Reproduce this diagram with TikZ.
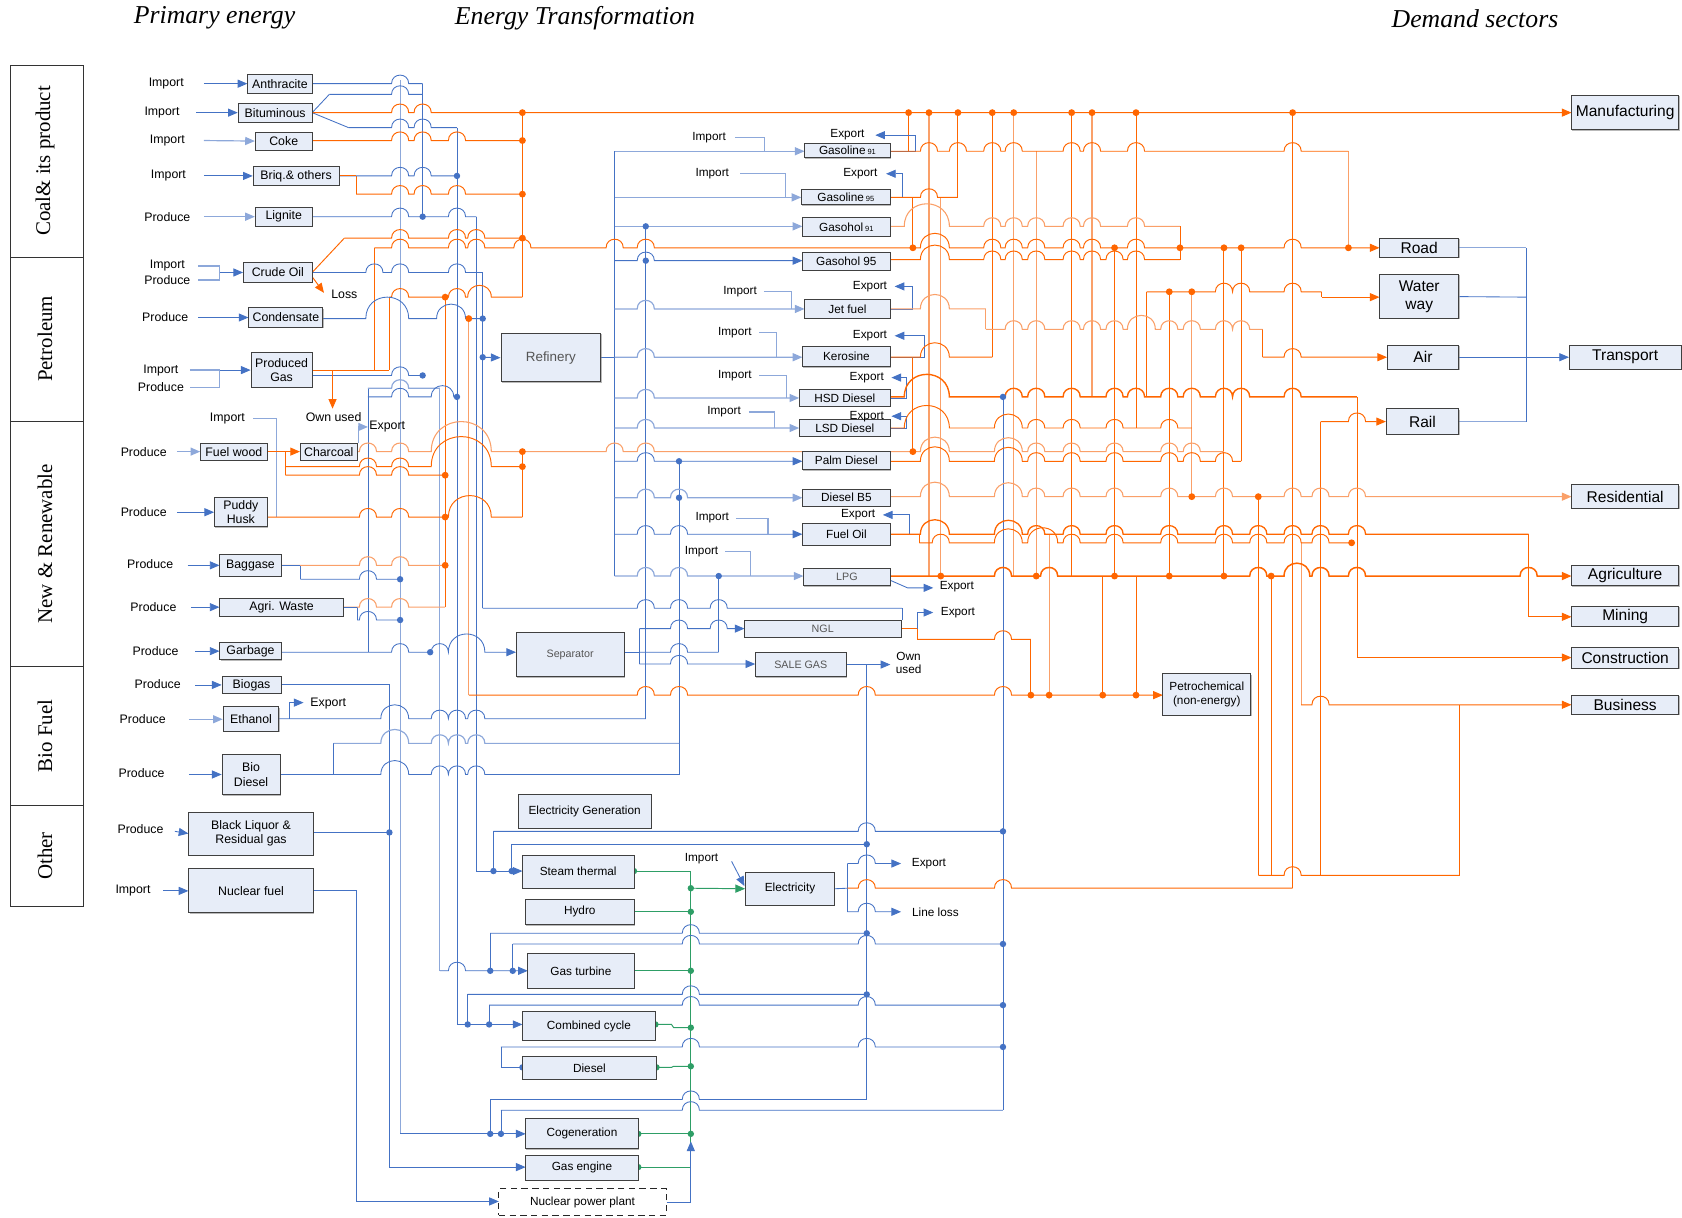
\documentclass[tikz,border=0pt]{standalone}
\usepackage{fontspec}
\setmainfont{Liberation Sans}
\newfontfamily\serfam{Liberation Serif}
\usetikzlibrary{arrows.meta,shadows}
\definecolor{blueC}{RGB}{68,114,196}
\definecolor{lblueC}{RGB}{141,168,218}
\definecolor{orangeC}{RGB}{255,102,0}
\definecolor{lorangeC}{RGB}{250,160,105}
\definecolor{greenC}{RGB}{46,158,102}
\definecolor{boxC}{RGB}{231,237,248}
\definecolor{grayT}{RGB}{85,85,85}
\newcommand\fA{\fontsize{11}{13}\selectfont}
\newcommand\fB{\fontsize{11.5}{13.5}\selectfont}
\newcommand\fC{\fontsize{14.5}{17}\selectfont}
\newcommand\fG{\fontsize{10}{12}\selectfont}
\newcommand\fS{\fontsize{7}{8}\selectfont}
\pgfdeclarelayer{bg}
\pgfsetlayers{bg,main}
% verticals: x/top/bottom/style (sorted by x)
\def\vlist{258/390/482/lbl,266/421/443/ol,280/527/540/bl,311/693/722/bl,332/164/181/ol,332/830/1120/bl,333/566/578/bl,343/362/608/bl,349/231/345/ol,363/277/345/ol,363/638/1088/bl,373/75/1057/lbl,394/78/202/bl,410/362/905/lbl,415/277/566/ol,426/119/955/bl,436/927/955/bl,437/297/648/lol,444/202/812/bl,450/254/567/bl,456/937/955/bl,457/870/905/bl,457/1025/1057/bl,460/775/812/bl,467/976/995/bl,467/1035/1057/bl,477/787/812/bl,478/880/905/bl,487/105/277/ol,487/421/482/ol,573/141/537/bl,596/586/619/bl,602/211/670/bl,633/430/722/bl,644/812/1088/gl,670/537/608/bl,790/805/850/bl,808/619/1025/bl,841/567/578/bl,847/105/141/ol,851/184/231/ol,851/333/421/ol,855/586/596/ol,857/498/506/ol,866/105/537/lol,877/184/537/lol,893/105/184/ol,919/288/307/lol,925/105/333/ol,935/370/1035/bl,945/105/537/lol,961/596/648/ol,966/141/537/lol,978/498/648/lol,999/105/537/ol,1018/105/370/lol,1028/537/648/ol,1039/231/537/ol,1059/105/399/ol,1059/537/648/ol,1069/272/370/ol,1090/272/537/ol,1100/211/242/ol,1111/272/463/lol,1141/231/537/ol,1157/231/430/ol,1173/463/816/ol,1177/307/333/ol,1185/537/816/ol,1205/105/828/ol,1213/506/657/lol,1231/393/816/ol,1232/272/277/ol,1257/141/231/lol,1265/370/613/ol,1361/657/816/ol,1423/231/393/bl,1425/498/575/ol}
% horizontal segment with hops over the verticals it crosses
\newcommand\hseg[4][bl]{%
  \gdef\hoplist{}\gdef\hopA{}\gdef\hopB{}%
  \foreach \vx/\vt/\vb/\vs in \vlist {%
    \pgfmathparse{and(and(\vx>#3+9,\vx<#4-9),and(\vt<#2-1,\vb>#2+1))}%
    \ifdim\pgfmathresult pt>0.5pt\relax
      \ifx\hopA\empty
        \pgfmathsetmacro\hsTa{\vx-8}\pgfmathsetmacro\hsTb{\vx+8}%
        \xdef\hopA{\hsTa}\xdef\hopB{\hsTb}%
      \else
        \pgfmathparse{\vx-8<\hopB}%
        \ifdim\pgfmathresult pt>0.5pt\relax
          \pgfmathsetmacro\hsTb{\vx+8}\xdef\hopB{\hsTb}%
        \else
          \ifx\hoplist\empty\xdef\hoplist{\hopA/\hopB}\else\xdef\hoplist{\hoplist,\hopA/\hopB}\fi
          \pgfmathsetmacro\hsTa{\vx-8}\pgfmathsetmacro\hsTb{\vx+8}%
          \xdef\hopA{\hsTa}\xdef\hopB{\hsTb}%
        \fi
      \fi
    \fi
  }%
  \ifx\hopA\empty\else
    \ifx\hoplist\empty\xdef\hoplist{\hopA/\hopB}\else\xdef\hoplist{\hoplist,\hopA/\hopB}\fi
  \fi
  \ifx\hoplist\empty
    \draw[#1] (#3,#2) -- (#4,#2);
  \else
    \draw[#1] (#3,#2) \foreach \ha/\hb in \hoplist {-- (\ha,#2) .. controls ({\ha},{#2-0.667*(\hb-\ha)}) and ({\hb},{#2-0.667*(\hb-\ha)}) .. (\hb,#2)} -- (#4,#2);
  \fi
}
\begin{document}
\begin{tikzpicture}[x=1pt,y=-1pt,
  bl/.style={draw=blueC,line width=0.8pt},
  lbl/.style={draw=lblueC,line width=1.1pt},
  ol/.style={draw=orangeC,line width=0.9pt},
  lol/.style={draw=lorangeC,line width=1pt},
  gl/.style={draw=greenC,line width=0.9pt},
  tri/.style={-{Triangle[length=9pt,width=7.5pt]}},
  box/.style={draw=black!75,fill=boxC,line width=0.8pt,inner sep=1pt,align=center,font=\fA,
     drop shadow={shadow xshift=0.8pt,shadow yshift=-0.8pt,fill=black!55}},
  lbox/.style={box,font=\fB},
  sbox/.style={box,font=\fC},
  gbox/.style={box,text=grayT},
  lab/.style={font=\fA,inner sep=0pt,align=center},
  llab/.style={font=\fB,inner sep=0pt,align=center}]
\useasboundingbox (0,0) rectangle (1568,1135);
% titles
\node[font=\serfam\itshape\fontsize{24}{28}\selectfont] (t1) at (200,17) {Primary energy};
\node[font=\serfam\itshape\fontsize{24}{28}\selectfont] (t2) at (536,17) {Energy Transformation};
\node[font=\serfam\itshape\fontsize{24}{28}\selectfont] (t3) at (1375,17) {Demand sectors};
% categories
\draw[black!80,line width=0.9pt] (10,61) rectangle (78,845);
\foreach \yy in {240,393,621,751} \draw[black!80,line width=0.9pt] (10,\yy) -- (78,\yy);
\begin{scope}[every node/.style={rotate=90,font=\serfam\fontsize{19.5}{22}\selectfont}]
\node (c1) at (42,150) {Coal\& its product};
\node (c2) at (42,316) {Petroleum};
\node (c3) at (42,507) {New \& Renewable};
\node (c4) at (42,686) {Bio Fuel};
\node (c5) at (42,798) {Other};
\end{scope}
% primary boxes
\node[lbox,minimum width=60,minimum height=18] (anth) at (261,78) {Anthracite};
\node[lbox,minimum width=69,minimum height=18] (bitu) at (256.5,105) {Bituminous};
\node[lbox,minimum width=53,minimum height=17] (coke) at (264.5,131.5) {Coke};
\node[lbox,minimum width=80,minimum height=18] (briq) at (276,164) {Briq.\& others};
\node[lbox,minimum width=53,minimum height=18] (lign) at (264.5,202) {Lignite};
\node[lbox,minimum width=64,minimum height=18] (crude) at (259,254) {Crude Oil};
\node[lbox,minimum width=69,minimum height=18] (cond) at (266.5,296) {Condensate};
\node[lbox,minimum width=57,minimum height=32] (pgas) at (262.5,345) {Produced\\Gas};
\node[lbox,minimum width=62,minimum height=16] (fwood) at (218,421) {Fuel wood};
\node[lbox,minimum width=53,minimum height=16] (charc) at (306.5,421) {Charcoal};
\node[lbox,minimum width=49,minimum height=27] (puddy) at (224.5,477.5) {Puddy\\Husk};
\node[lbox,minimum width=57,minimum height=20] (bagg) at (233.5,527) {Baggase};
\node[lbox,minimum width=115,minimum height=17] (agri) at (262.5,566) {Agri. Waste};
\node[lbox,minimum width=57,minimum height=16] (garb) at (233.5,607) {Garbage};
\node[lbox,minimum width=55,minimum height=15] (biog) at (234.5,638.5) {Biogas};
\node[lbox,minimum width=52,minimum height=23] (ethan) at (234,670.5) {Ethanol};
\node[lbox,minimum width=54,minimum height=38] (biod) at (234,722) {Bio\\Diesel};
\node[lbox,minimum width=116,minimum height=40] (blq) at (234,777) {Black Liquor \&\\Residual gas};
\node[lbox,minimum width=116,minimum height=41] (nucf) at (234,830.5) {Nuclear fuel};
% transformation boxes
\node[gbox,font=\fontsize{12.5}{15}\selectfont,minimum width=93,minimum height=45] (refin) at (513.5,333.5) {Refinery};
\node[gbox,font=\fG,minimum width=101,minimum height=41] (sep) at (531.5,610.5) {Separator};
\node[box,minimum width=80,minimum height=13] (g91) at (790,140.5) {Gasoline\,{\fS 91}};
\node[box,minimum width=83,minimum height=14] (g95) at (788.5,184) {Gasoline\,{\fS 95}};
\node[box,minimum width=82,minimum height=17] (gh91) at (789,211.5) {Gasohol\,{\fS 91}};
\node[box,minimum width=82,minimum height=17] (gh95) at (789,243.5) {Gasohol 95};
\node[box,minimum width=80,minimum height=18] (jet) at (790,288) {Jet fuel};
\node[box,minimum width=82,minimum height=19] (kero) at (789,332.5) {Kerosine};
\node[box,minimum width=85,minimum height=16] (hsd) at (787.5,371) {HSD Diesel};
\node[box,minimum width=85,minimum height=16] (lsd) at (787.5,399) {LSD Diesel};
\node[box,minimum width=82,minimum height=17] (palm) at (789,429.5) {Palm Diesel};
\node[box,minimum width=82,minimum height=16] (b5) at (789,464) {Diesel B5};
\node[box,minimum width=82,minimum height=20] (foil) at (789,498) {Fuel Oil};
\node[gbox,font=\fG,minimum width=81,minimum height=16] (lpg) at (789.5,538) {LPG};
\node[gbox,font=\fG,minimum width=146,minimum height=16] (ngl) at (767,586) {NGL};
\node[gbox,font=\fG,minimum width=85,minimum height=23] (sale) at (746.5,619.5) {SALE GAS};
\node[box,minimum width=124,minimum height=31] (egen) at (545,756.5) {Electricity Generation};
\node[box,minimum width=104,minimum height=31] (steam) at (539,812.5) {Steam thermal};
\node[box,minimum width=101,minimum height=24] (hydro) at (540.5,850) {Hydro};
\node[box,minimum width=99,minimum height=32] (gturb) at (541.5,905) {Gas turbine};
\node[box,minimum width=124,minimum height=27] (ccyc) at (549,956.5) {Combined cycle};
\node[box,minimum width=125,minimum height=21] (dies) at (549.5,995.5) {Diesel};
\node[box,minimum width=105,minimum height=28] (cogen) at (542.5,1057) {Cogeneration};
\node[box,minimum width=105,minimum height=23] (geng) at (542.5,1088.5) {Gas engine};
\node[draw=black!85,dash pattern=on 6pt off 4pt,line width=1pt,fill=white,font=\fA,minimum width=156,minimum height=25,inner sep=1pt] (npp) at (543,1120.5) {Nuclear power plant};
\node[box,minimum width=83,minimum height=31] (elec) at (736.5,828.5) {Electricity};
\node[box,minimum width=82,minimum height=39] (petro) at (1125,647.5) {Petrochemical\\(non-energy)};
% demand boxes
\node[sbox,minimum width=100,minimum height=32] (manu) at (1515,105) {Manufacturing};
\node[sbox,minimum width=74,minimum height=18] (road) at (1323,231) {Road};
\node[sbox,minimum width=74,minimum height=41] (water) at (1323,276.5) {Water\\way};
\node[sbox,minimum width=67,minimum height=22] (air) at (1326.5,333) {Air};
\node[sbox,minimum width=68,minimum height=24] (rail) at (1326,393) {Rail};
\node[sbox,minimum width=104,minimum height=22] (transp) at (1515,333) {Transport};
\node[sbox,minimum width=100,minimum height=22] (resid) at (1515,463) {Residential};
\node[sbox,minimum width=100,minimum height=19] (agric) at (1515,536.5) {Agriculture};
\node[sbox,minimum width=100,minimum height=19] (mining) at (1515,574.5) {Mining};
\node[sbox,minimum width=100,minimum height=19] (constr) at (1515,613.5) {Construction};
\node[sbox,minimum width=100,minimum height=18] (busi) at (1515,657) {Business};
% left labels
\node[llab] (p1) at (155,78) {Import};
\node[llab] (p2) at (151,105) {Import};
\node[llab] (p3) at (156,131) {Import};
\node[llab] (p4) at (157,164) {Import};
\node[llab] (p5) at (156,202) {Produce};
\node[llab] (p6) at (156,248) {Import};
\node[llab] (p7) at (156,261) {Produce};
\node[llab] (p8) at (154,296) {Produce};
\node[llab] (p9) at (150,345) {Import};
\node[llab] (p10) at (150,361) {Produce};
\node[llab] (p11) at (212,390) {Import};
\node[llab] (p12) at (134,421) {Produce};
\node[llab] (p13) at (134,477) {Produce};
\node[llab] (p14) at (140,526) {Produce};
\node[llab] (p15) at (143,566) {Produce};
\node[llab] (p16) at (145,607) {Produce};
\node[llab] (p17) at (147,638) {Produce};
\node[llab] (p18) at (133,670) {Produce};
\node[llab] (p19) at (132,721) {Produce};
\node[llab] (p20) at (131,773) {Produce};
\node[llab] (p21) at (124,830) {Import};
\node[llab] (q1) at (321,274) {Loss};
\node[llab] (q2) at (311,389) {Own used};
\node[llab] (q3) at (361,398) {Export};
\node[llab] (q4) at (306,656) {Export};
% middle labels
\node[lab] (m1) at (661,128) {Import};
\node[lab] (m2) at (790,126) {Export};
\node[lab] (m3) at (664,162) {Import};
\node[lab] (m4) at (802,162) {Export};
\node[lab] (m5) at (690,272) {Import};
\node[lab] (m6) at (811,267) {Export};
\node[lab] (m7) at (685,310) {Import};
\node[lab] (m8) at (811,313) {Export};
\node[lab] (m9) at (685,350) {Import};
\node[lab] (m10) at (808,352) {Export};
\node[lab] (m11) at (675,384) {Import};
\node[lab] (m12) at (808,388) {Export};
\node[lab] (m13) at (664,483) {Import};
\node[lab] (m14) at (800,480) {Export};
\node[lab] (m15) at (654,514) {Import};
\node[lab] (m16) at (892,547) {Export};
\node[lab] (m17) at (893,571) {Export};
\node[lab] (m18) at (847,618) {Own\\used};
\node[lab] (m19) at (654,800) {Import};
\node[lab] (m20) at (866,805) {Export};
\node[lab] (m21) at (872,850) {Line loss};

\begin{pgfonlayer}{bg}
% all verticals
\foreach \vx/\vt/\vb/\vs in \vlist {\draw[\vs] (\vx,\vt) -- (\vx,\vb);}
% ---- primary inputs
\draw[bl,tri] (190,78) -- (anth.west);
\draw[bl,tri] (183,105) -- (bitu.west);
\draw[lbl,tri] (190,131) -- (coke.west);
\draw[bl,tri] (190,164) -- (briq.west);
\draw[lbl,tri] (190,202) -- (lign.west);
\draw[lbl] (185,248) -| (205,261) -- (185,261);
\draw[bl,tri] (205,254) -- (crude.west);
\draw[bl,tri] (185,296) -- (cond.west);
\draw[lbl] (177,345) -| (205,361) -- (177,361);
\draw[bl,tri] (205,345) -- (pgas.west);
\draw[lbl,tri] (165,421) -- (fwood.west);
\draw[bl,tri] (165,477.5) -- (puddy.west);
\draw[bl,tri] (175,527) -- (bagg.west);
\draw[bl,tri] (178,566) -- (agri.west);
\draw[bl,tri] (182,607) -- (garb.west);
\draw[bl,tri] (182,638.5) -- (biog.west);
\draw[lbl,tri] (176,670.5) -- (ethan.west);
\draw[bl,tri] (176,722) -- (biod.west);
\draw[bl,tri] (163,775) -- (blq.west);
\draw[bl,tri] (152,830.5) -- (nucf.west);
% ---- coal & petroleum
\hseg[bl]{78}{291}{394}
\draw[bl] (291,105) -- (307,88); \hseg[bl]{88}{307}{394}
\draw[bl] (291,105) -- (325,119); \hseg[bl]{119}{325}{426}
\hseg[ol,tri]{105}{291}{1465}
\hseg[ol]{131}{291}{487}
\hseg[bl]{164}{316}{426}
\hseg[ol]{164}{316}{332}
\hseg[ol]{181}{332}{487}
\hseg[bl]{202}{291}{394}
\hseg[bl]{202}{394}{444}
\draw[ol] (291,254) -- (321,222); \hseg[ol]{222}{321}{487}
\hseg[bl]{254}{291}{450}
\draw[ol,tri] (291,258) -- (302,273);
\hseg[ol]{231}{349}{1100}
\hseg[ol,tri]{231}{1100}{1286}
\hseg[ol]{277}{363}{487}
\hseg[bl]{297}{301}{450}
\hseg[ol]{345}{291}{363}
\hseg[bl]{350}{291}{394}
\hseg[lbl]{362}{343}{410}
\hseg[bl]{370}{343}{426}
\draw[bl,tri] (450,333) -- (refin.west);
\draw[ol,tri] (310,345) -- (310,381);
% ---- new & renewable
\draw[lbl] (236,390) -- (258,390);
\draw[ol,tri] (fwood.east) -- (charc.west);
\draw[lbl,tri] (334,413) -- (334,398) -- (343,398);
\hseg[lol]{421}{333}{1141}
\hseg[ol]{435}{266}{487}
\hseg[ol]{443}{266}{415}
\hseg[ol]{482}{249}{415}
\hseg[ol]{482}{415}{487}
\hseg[lol]{527}{262}{415}
\draw[bl] (262,527) -- (280,527);
\hseg[bl]{540}{280}{373}
\hseg[lol]{566}{320}{415}
\draw[bl] (320,566) -- (333,566);
\hseg[bl]{578}{333}{373}
\hseg[bl,tri]{608}{262}{481}
% ---- bio fuel & other
\hseg[bl]{638}{262}{363}
\hseg[bl]{670}{260}{602}
\draw[bl,tri] (270,670) -- (270,655) -- (283,655);
\hseg[bl]{722}{261}{633}
\hseg[lbl]{693}{311}{633}
\hseg[bl]{776}{292}{363}
\hseg[bl]{830}{292}{332}
\hseg[bl,tri]{1120}{332}{465}
\hseg[ol,tri]{648}{437}{1084}
% ---- refinery outputs
\hseg[bl]{333}{560}{573}
\hseg[lbl,tri]{141}{573}{750}
\hseg[lbl,tri]{184}{573}{747}
\hseg[lbl,tri]{211}{573}{748}
\hseg[bl,tri]{243}{573}{748}
\hseg[lbl,tri]{288}{573}{750}
\hseg[lbl,tri]{333}{573}{748}
\hseg[lbl,tri]{371}{573}{745}
\hseg[lbl,tri]{399}{573}{745}
\hseg[bl,tri]{430}{573}{748}
\hseg[lbl,tri]{464}{573}{748}
\hseg[bl,tri]{498}{573}{748}
\hseg[lbl,tri]{537}{573}{749}
\draw[lbl] (685,128) -| (713,141);
\draw[lbl] (690,162) -| (732,184);
\draw[lbl] (712,272) -| (738,288);
\draw[lbl] (708,310) -| (724,333);
\draw[lbl] (708,350) -| (733,371);
\draw[lbl] (698,384) -| (722,399);
\draw[lbl] (686,483) -| (716,498);
\draw[lbl] (676,514) -| (700,537);
\draw[bl,tri] (830,141) -| (853,126) -- (816,126);
\draw[bl,tri] (830,184) -| (841,162) -- (826,162);
\draw[bl,tri] (830,288) -| (851,267) -- (834,267);
\draw[bl,tri] (830,333) -| (862,313) -- (834,313);
\draw[bl,tri] (830,371) -| (845,352) -- (831,352);
\draw[bl,tri] (830,399) -| (845,388) -- (831,388);
\draw[bl,tri] (830,498) -| (848,480) -- (823,480);
\draw[bl,tri] (830,541) -- (846,548) -- (870,548);
\draw[bl,tri] (840,586) -| (855,571) -- (870,571);
\draw[bl,tri] (sale.east) -- (830,619.5);
% ---- separator
\hseg[bl]{567}{450}{841}
\hseg[bl]{608}{582}{596}
\hseg[bl]{608}{596}{670}
\hseg[bl,tri]{586}{596}{694}
\hseg[bl,tri]{619}{596}{704}
\draw[ol] (840,586) -- (855,586);
\hseg[ol]{596}{855}{961}
% ---- fuels to demand
\hseg[ol]{141}{830}{1257}
\hseg[ol]{184}{830}{893}
\hseg[lol]{211}{830}{1100}
\hseg[ol]{242}{830}{1100}
\hseg[lol]{288}{830}{919}
\hseg[lol]{307}{919}{1177}
\hseg[ol]{333}{830}{925}
\hseg[ol,tri]{333}{1177}{1293}
\hseg[ol,line width=1.3pt]{370}{830}{1265}
\hseg[ol]{399}{830}{1111}
\hseg[ol]{430}{830}{1157}
\hseg[lol,tri]{463}{830}{1465}
\hseg[ol,line width=1.2pt]{498}{830}{1425}
\hseg[ol]{506}{857}{1260}
\hseg[ol,tri,line width=1.4pt]{537}{830}{1465}
\hseg[ol,tri]{575}{1425}{1465}
\hseg[ol,tri]{613}{1265}{1465}
\hseg[ol,tri]{657}{1213}{1465}
\hseg[ol]{272}{1069}{1232}
\hseg[ol,tri]{277}{1232}{1286}
\hseg[ol,tri]{393}{1231}{1292}
\hseg[ol]{816}{1173}{1361}
\hseg[ol]{828}{790}{1205}
% ---- transport
\draw[lbl] (road.east) -- (1423,231);
\draw[bl] (water.east) -- (1423,277);
\draw[bl] (air.east) -- (1423,333);
\draw[bl,tri] (1423,333) -- (transp.west);
\draw[lbl] (rail.east) -- (1423,393);
% ---- electricity generation
\hseg[bl]{775}{460}{935}
\hseg[bl]{787}{477}{808}
\hseg[bl]{870}{457}{808}
\hseg[bl]{880}{478}{935}
\hseg[bl]{927}{436}{808}
\hseg[bl]{937}{456}{935}
\hseg[bl]{976}{467}{935}
\hseg[bl]{1025}{457}{808}
\hseg[bl]{1035}{467}{935}
\hseg[bl,tri]{812}{444}{487}
\hseg[bl,tri]{905}{410}{492}
\hseg[bl,tri]{955}{426}{487}
\draw[bl] (467,995) -- (487,995);
\hseg[bl,tri]{1057}{373}{490}
\hseg[bl,tri]{1088}{363}{490}
\draw[gl] (591,812) -- (644,812);
\draw[gl,tri] (644,828) -- (elec.west);
\draw[gl] (591,850) -- (644,850);
\draw[gl] (591,905) -- (644,905);
\draw[gl] (611,955) -- (626,955) -- (628,958) -- (644,958);
\draw[gl] (612,995) -- (626,995) -- (628,994) -- (644,994);
\draw[gl] (595,1057) -- (644,1057);
\draw[gl] (595,1088) -- (644,1088);
\draw[bl,tri] (npp.east) -| (644,1064);
\draw[bl,tri] (682,803) -- (694,826);
\draw[bl] (elec.east) -- (790,828);
\hseg[bl,tri]{805}{790}{840}
\hseg[bl,tri]{850}{790}{840}
% ---- dots
\foreach \p in {{487,105},{487,131},{487,181},{487,222},{415,277},{437,297},{415,443},{487,421},{487,435},{415,482},{415,527},{847,105},{866,105},{893,105},{925,105},{945,105},{999,105},{1018,105},{1059,105},{1205,105},{851,231},{1039,231},{1100,231},{1141,231},{1157,231},{1257,231},{1090,272},{1111,272},{851,421},{1111,463},{1173,463},{1260,506},{877,537},{966,537},{1039,537},{1090,537},{1141,537},{1185,537},{961,648},{978,648},{1028,648},{1059,648}}
  \fill[orangeC] (\p) circle[radius=3.2pt];
\foreach \p in {{394,202},{426,164},{426,370},{394,350},{450,297},{450,333},{373,540},{373,578},{401,608},{363,776},{602,211},{602,243},{633,430},{633,464},{670,537},{460,812},{477,812},{457,905},{478,905},{436,955},{456,955},{457,1057},{467,1057},{487,995},{935,370},{935,775},{935,880},{935,937},{935,976},{808,787},{808,870},{808,927}}
  \fill[blueC] (\p) circle[radius=3pt];
\foreach \p in {{591,812},{644,828},{644,850},{644,905},{611,955},{644,958},{612,995},{644,994},{595,1057},{644,1057},{595,1088}}
  \fill[greenC] (\p) circle[radius=3pt];
\end{pgfonlayer}
\end{tikzpicture}
\end{document}
